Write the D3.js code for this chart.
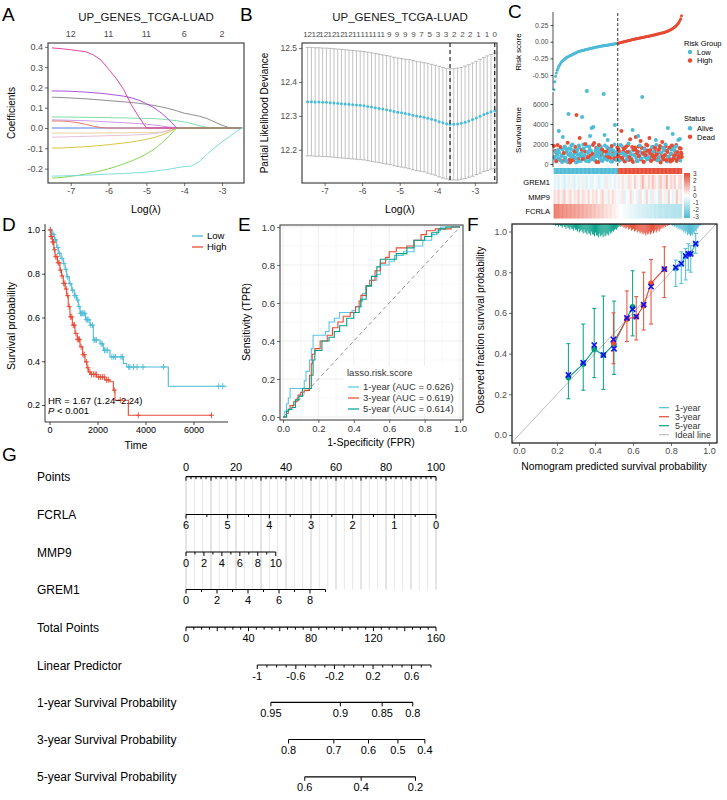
<!DOCTYPE html>
<html><head><meta charset="utf-8">
<script src="https://cdn.jsdelivr.net/npm/d3@7/dist/d3.min.js"></script>
<style>html,body{margin:0;padding:0;background:#fff}svg{display:block}</style>
</head><body>
<svg id="fig" width="727" height="800"></svg>
<script>
const FONT='"Liberation Sans", Arial, Helvetica, sans-serif';
// ================= DATA =================
// Panel A: LASSO coefficient paths
const lambdaA=[-7.5,-7.2,-7.0,-6.8,-6.6,-6.4,-6.2,-6.0,-5.8,-5.6,-5.4,-5.2,-5.0,-4.8,-4.6,-4.4,-4.2,-4.0,-3.8,-3.6,-3.4,-3.2,-3.0,-2.8,-2.6,-2.47];
const coefBlue=[0,0,0,0,0,0,0,0,0,0,0,0,0,0,0,0,0,0,0,0,0,0,0,0,0,0];
const coefPink=[0.395,0.390,0.386,0.381,0.376,0.360,0.335,0.290,0.245,0.190,0.115,0.055,0,0,0,0,0,0,0,0,0,0,0,0,0,0];
const coefPurple=[0.183,0.182,0.181,0.179,0.177,0.174,0.171,0.167,0.162,0.157,0.149,0.137,0.120,0.100,0.073,0.040,0,0,0,0,0,0,0,0,0,0];
const coefGray=[0.152,0.150,0.148,0.146,0.144,0.141,0.138,0.135,0.132,0.129,0.126,0.122,0.117,0.111,0.104,0.095,0.085,0.073,0.066,0.058,0.047,0.030,0.014,0,0,0];
const coefMint=[0.055,0.054,0.054,0.053,0.053,0.052,0.052,0.051,0.050,0.050,0.049,0.048,0.047,0.046,0.044,0.040,0.036,0.030,0.022,0.012,0.003,0,0,0,0,0];
const coefLilac=[0.040,0.039,0.038,0.037,0.036,0.034,0.032,0.030,0.028,0.026,0.024,0.022,0.019,0.015,0.010,0.005,0,0,0,0,0,0,0,0,0,0];
const coefOrange=[0.035,0.034,0.031,0.026,0.018,0.009,0.002,0,0,0,0,0,0,0,0,0,0,0,0,0,0,0,0,0,0,0];
const coefBeige=[-0.025,-0.025,-0.025,-0.025,-0.025,-0.025,-0.024,-0.024,-0.024,-0.024,-0.023,-0.023,-0.023,-0.022,-0.020,-0.011,0,0,0,0,0,0,0,0,0,0];
const coefRose=[-0.045,-0.044,-0.043,-0.042,-0.041,-0.040,-0.039,-0.038,-0.037,-0.036,-0.035,-0.033,-0.031,-0.028,-0.022,-0.012,0,0,0,0,0,0,0,0,0,0];
const coefYellow=[-0.099,-0.098,-0.096,-0.094,-0.092,-0.089,-0.086,-0.082,-0.078,-0.074,-0.069,-0.063,-0.056,-0.047,-0.035,-0.019,0,0,0,0,0,0,0,0,0,0];
const coefGreen=[-0.247,-0.243,-0.238,-0.233,-0.226,-0.219,-0.211,-0.201,-0.190,-0.177,-0.163,-0.147,-0.128,-0.105,-0.075,-0.040,0,0,0,0,0,0,0,0,0,0];
const coefCyan=[-0.237,-0.236,-0.235,-0.234,-0.232,-0.231,-0.229,-0.227,-0.226,-0.224,-0.222,-0.220,-0.217,-0.213,-0.208,-0.203,-0.196,-0.190,-0.187,-0.165,-0.130,-0.098,-0.068,-0.042,-0.014,0];
const topNumA=["12","11","11","6","2"];
const topPosA=[-7,-6,-5,-4,-3];
const xTicksA=[-7,-6,-5,-4,-3];
const yTicksA=[-0.2,-0.1,0.0,0.1,0.2,0.3,0.4];

// Panel B: cross-validation
const lambdaB=[-7.45,-7.35,-7.25,-7.15,-7.05,-6.95,-6.85,-6.75,-6.65,-6.55,-6.45,-6.35,-6.25,-6.15,-6.05,-5.95,-5.85,-5.75,-5.65,-5.55,-5.45,-5.35,-5.25,-5.15,-5.05,-4.95,-4.85,-4.75,-4.65,-4.55,-4.45,-4.35,-4.25,-4.15,-4.05,-3.95,-3.85,-3.75,-3.66,-3.56,-3.46,-3.36,-3.26,-3.16,-3.06,-2.96,-2.86,-2.76,-2.67,-2.57,-2.47];
const cvm=[12.342,12.342,12.341,12.341,12.340,12.340,12.339,12.338,12.337,12.336,12.335,12.334,12.333,12.332,12.331,12.330,12.328,12.326,12.324,12.322,12.320,12.318,12.316,12.313,12.311,12.309,12.307,12.305,12.302,12.300,12.298,12.296,12.293,12.290,12.287,12.283,12.280,12.277,12.275,12.275,12.276,12.278,12.281,12.285,12.289,12.294,12.299,12.304,12.308,12.312,12.315];
const cvsd=[0.160,0.160,0.160,0.160,0.160,0.160,0.160,0.160,0.160,0.160,0.160,0.160,0.160,0.160,0.160,0.160,0.160,0.160,0.160,0.160,0.160,0.160,0.160,0.160,0.160,0.160,0.160,0.161,0.161,0.161,0.161,0.161,0.162,0.162,0.162,0.163,0.163,0.163,0.164,0.164,0.165,0.165,0.166,0.166,0.167,0.167,0.168,0.168,0.169,0.169,0.170];
const lambdaMin=-3.66, lambda1se=-2.47;
const topNumB=["12","12","12","12","12","12","11","11","11","11","9","9","9","9","7","5","3","3","2","2","2","1","1","0"];
const topPosB=[-7.45,-7.23,-7.02,-6.80,-6.58,-6.37,-6.15,-5.93,-5.72,-5.50,-5.28,-5.07,-4.85,-4.63,-4.42,-4.20,-3.98,-3.77,-3.55,-3.33,-3.12,-2.90,-2.68,-2.47];
const yTicksB=[12.2,12.3,12.4,12.5];

// Panel C: risk score, survival, heatmap (patients ordered by risk)
const riskScore=[-0.72,-0.60,-0.52,-0.47,-0.43,-0.40,-0.37,-0.35,-0.33,-0.31,
-0.295,-0.285,-0.275,-0.265,-0.255,-0.245,-0.235,-0.228,-0.222,-0.216,
-0.210,-0.204,-0.198,-0.192,-0.186,-0.180,-0.174,-0.168,-0.162,-0.156,
-0.152,-0.148,-0.144,-0.140,-0.136,-0.133,-0.130,-0.127,-0.124,-0.121,
-0.118,-0.115,-0.112,-0.109,-0.106,-0.103,-0.100,-0.097,-0.094,-0.091,
-0.088,-0.085,-0.083,-0.080,-0.078,-0.075,-0.073,-0.070,-0.068,-0.066,
-0.064,-0.062,-0.060,-0.058,-0.056,-0.054,-0.052,-0.050,-0.048,-0.046,
-0.044,-0.042,-0.040,-0.038,-0.036,-0.034,-0.032,-0.030,-0.028,-0.026,
-0.022,-0.019,-0.016,-0.013,-0.010,-0.007,-0.004,-0.001,0.002,0.005,
0.008,0.011,0.014,0.017,0.020,0.023,0.026,0.029,0.032,0.035,
0.038,0.040,0.043,0.045,0.048,0.050,0.053,0.055,0.058,0.060,
0.063,0.065,0.068,0.070,0.073,0.075,0.078,0.080,0.083,0.085,
0.088,0.090,0.093,0.096,0.099,0.102,0.105,0.108,0.111,0.114,
0.117,0.120,0.123,0.126,0.129,0.132,0.135,0.139,0.143,0.147,
0.151,0.155,0.160,0.165,0.170,0.176,0.182,0.189,0.197,0.206,
0.215,0.225,0.236,0.248,0.262,0.278,0.296,0.318,0.345,0.390];
const survTime=[1800,600,1200,300,900,1400,3300,450,1700,800,
200,2700,1100,650,1600,350,1300,2130,5000,900,
150,1500,700,1950,400,1000,1250,550,4900,1400,
250,1850,2600,750,1100,4700,500,1550,900,2000,
300,7300,1200,650,1750,2800,450,3600,1000,3700,
2100,800,1350,200,1600,950,1900,600,1150,350,
1450,850,7000,2900,500,1250,1700,2400,700,1050,
1500,250,1800,900,1350,550,3900,1150,400,1650,
800,1300,350,1900,3300,600,1100,1550,250,950,
1750,500,1200,2050,700,2470,1000,400,3400,1450,
850,1650,2700,300,1250,2800,750,1850,2300,550,
6700,1100,200,1500,900,1950,450,1350,650,2600,
1050,300,1700,800,1250,500,1600,2400,950,350,
1400,700,1800,150,1150,2200,600,1500,850,1950,
400,1300,3600,750,1650,250,1050,1850,3000,550,
1400,900,1750,300,1200,2400,650,2500,1550,1000];
const survStatus=[1,0,0,1,0,0,0,0,1,0,
0,0,1,0,0,0,0,1,0,0,
1,0,0,0,1,0,1,0,1,0,
0,0,1,0,0,0,1,0,0,1,
0,0,0,1,0,0,0,0,1,0,
1,0,0,1,0,0,1,0,0,0,
1,0,0,0,0,1,0,0,1,0,
0,0,1,0,0,1,0,0,0,1,
1,1,0,0,1,1,0,1,1,0,
1,0,1,0,1,1,0,1,0,1,
0,1,1,0,1,0,1,0,1,0,
0,1,1,0,1,1,0,1,0,1,
1,1,0,1,0,1,1,0,1,0,
1,0,1,1,0,1,1,0,1,0,
1,1,0,0,1,1,0,1,0,1,
0,1,0,1,1,0,1,0,1,1];
// a second set of patients (interleaved) reading the dense 0-2000 band
const survTime2=[700,1300,250,1000,1900,550,1150,400,1600,850,
1450,300,1050,1750,600,1250,200,950,1550,450,
1100,1850,350,800,1350,650,1700,150,1200,900,
500,1650,1000,300,1400,750,1950,550,1250,400,
1800,700,1100,250,1500,850,1300,600,1900,450,
1000,350,1600,800,1150,200,1450,650,1750,950,
300,1250,550,1850,700,1050,400,1550,900,1350,
600,1650,250,1200,800,1950,450,1100,700,1400,
1500,350,1050,650,1800,500,1300,850,1600,300,
1150,750,1900,400,1250,950,550,1700,200,1350,
900,1450,600,1050,300,1750,800,1200,450,1600,
1000,250,1550,700,1300,850,1850,500,1150,650,
1400,350,950,1700,550,1250,800,1900,400,1050,
600,1500,300,1100,750,1650,450,1350,900,1800,
250,1200,700,1550,500,1000,1450,350,1750,850,
1300,600,1900,450,1050,800,1600,350,1150,700];
const survStatus2=[0,1,0,0,1,0,0,1,0,0,
0,1,0,0,0,1,0,0,0,1,
0,0,1,0,0,0,1,0,0,0,
1,0,0,0,1,0,0,0,1,0,
0,1,0,0,0,1,0,0,1,0,
0,0,1,0,0,1,0,0,0,1,
0,1,0,0,1,0,0,1,0,0,
1,0,0,1,0,0,1,0,1,0,
1,1,0,1,0,1,1,0,1,0,
1,0,1,1,0,1,0,1,1,0,
1,1,0,1,0,1,1,0,1,1,
0,1,1,0,1,0,1,1,0,1,
1,0,1,1,0,1,1,0,1,0,
1,1,0,1,1,0,1,0,1,1,
0,1,1,0,1,1,0,1,0,1,
1,0,1,1,0,1,1,0,1,1];
const heatGenes=["GREM1","MMP9","FCRLA"];
const heatGREM1=[-0.5,-0.3,-0.6,-0.2,-0.4,-0.7,-0.3,-0.5,0.2,-0.4,-0.6,-0.2,-0.5,-0.3,0.3,-0.4,
-0.6,-0.2,-0.4,-0.5,0.1,-0.3,-0.6,-0.4,-0.2,-0.5,0.4,-0.3,-0.4,-0.1,-0.5,-0.2,
0.3,-0.2,0.5,0.2,-0.3,0.6,0.4,0.1,0.8,0.3,-0.2,0.5,1.2,0.4,0.2,0.7,
0.3,1.0,0.5,-0.2,0.6,0.9,0.3,0.5,1.3,0.2,0.7,0.4,0.8,-0.1,0.5,0.6];
const heatMMP9=[0.6,0.3,0.8,0.2,0.5,0.9,0.1,0.4,0.7,-0.2,0.5,0.3,0.8,0.1,0.6,0.4,
0.2,0.7,-0.1,0.5,0.3,0.6,0.0,0.4,0.8,0.2,-0.3,0.5,0.1,0.6,0.3,-0.2,
0.2,-0.3,0.4,-0.5,0.1,-0.2,0.6,-0.4,0.0,0.3,-0.6,0.5,-0.1,-0.4,0.7,-0.2,
-0.5,0.4,-0.3,0.1,-0.7,0.6,-0.2,0.3,-0.4,0.8,-0.1,-0.5,0.2,0.9,-0.3,0.4];
const heatFCRLA=[2.2,2.0,2.1,1.8,2.0,1.7,1.9,1.6,1.8,1.5,1.7,1.4,1.6,1.3,1.5,1.2,
1.3,1.1,1.2,0.9,1.1,0.8,0.9,0.7,0.8,0.5,0.6,0.4,0.5,0.3,0.3,0.2,
0.1,0.0,-0.1,-0.2,-0.2,-0.3,-0.4,-0.4,-0.5,-0.5,-0.6,-0.6,-0.7,-0.7,-0.8,-0.8,
-0.9,-0.8,-1.0,-0.9,-1.0,-1.1,-1.0,-1.1,-1.2,-1.1,-1.2,-1.2,-1.3,-1.2,-1.3,-1.3];
const heatLegendTicks=[3,2,1,0,-1,-2,-3];

// Panel D: Kaplan-Meier
const kmLowT=[0,100,200,300,367,480,576,650,715,820,925,1030,1133,1200,1271,1500,1688,1825,2104,2243,2521,3076,3215,4950];
const kmLowS=[1.0,0.98,0.955,0.92,0.893,0.87,0.847,0.82,0.786,0.755,0.725,0.70,0.68,0.65,0.619,0.59,0.565,0.497,0.48,0.45,0.42,0.39,0.374,0.286];
const kmLowEnd=7375;
const kmHighT=[0,60,120,180,230,330,437,500,576,650,715,780,854,950,1062,1160,1271,1380,1479,1560,1618,1700,1965,2300,2521,2660,2729,3285];
const kmHighS=[1.0,0.97,0.945,0.91,0.878,0.85,0.817,0.79,0.756,0.73,0.70,0.65,0.603,0.565,0.527,0.50,0.466,0.43,0.397,0.37,0.351,0.34,0.328,0.315,0.306,0.268,0.222,0.153];
const kmHighEnd=6760;
const censLow=[50,100,180,260,350,420,520,600,680,760,860,960,1050,1100,1180,1230,1290,1330,1380,1430,1470,1530,1580,1640,1720,1790,1860,1900,1960,2150,2200,2290,2350,2420,2600,2680,2750,2980,3050,3300,3350,3500,3650,3900,4750,7050,7220];
const censHigh=[30,60,90,130,170,210,260,310,360,400,450,520,590,640,700,760,820,880,930,990,1040,1100,1160,1210,1250,1320,1400,1450,1540,1600,1680,1750,1830,1900,1950,2050,2120,2200,2280,2380,2450,2700,2950,3700,6750];
const groupsD=["Low","High"];

// Panel E: time-dependent ROC
const roc1fpr=[0,0.01,0.02,0.03,0.04,0.11,0.12,0.13,0.15,0.15,0.16,0.17,0.23,0.24,0.26,0.29,0.32,0.39,0.41,0.44,0.45,0.47,0.50,0.53,0.55,0.60,0.63,0.68,0.74,0.79,0.84,0.87,0.89,1.0];
const roc1tpr=[0,0.03,0.07,0.10,0.15,0.15,0.19,0.24,0.24,0.30,0.36,0.43,0.43,0.45,0.50,0.52,0.55,0.56,0.58,0.61,0.65,0.69,0.72,0.75,0.80,0.82,0.85,0.87,0.90,0.93,0.96,0.98,1.0,1.0];
const roc3fpr=[0,0.02,0.03,0.04,0.06,0.08,0.085,0.10,0.12,0.15,0.15,0.16,0.165,0.18,0.21,0.25,0.28,0.31,0.34,0.38,0.41,0.43,0.44,0.47,0.49,0.52,0.55,0.58,0.60,0.64,0.70,0.74,0.78,0.81,0.86,0.90,0.95,1.0];
const roc3tpr=[0,0.02,0.04,0.06,0.08,0.10,0.115,0.13,0.14,0.16,0.22,0.28,0.33,0.36,0.40,0.43,0.47,0.50,0.53,0.55,0.58,0.61,0.64,0.69,0.72,0.77,0.81,0.84,0.87,0.89,0.90,0.93,0.96,0.98,0.99,0.99,1.0,1.0];
const roc5fpr=[0,0.02,0.03,0.05,0.07,0.09,0.11,0.16,0.16,0.17,0.18,0.22,0.26,0.29,0.32,0.36,0.40,0.43,0.44,0.47,0.50,0.53,0.55,0.62,0.64,0.70,0.74,0.80,0.84,0.88,0.92,1.0];
const roc5tpr=[0,0.03,0.04,0.05,0.09,0.11,0.15,0.15,0.22,0.30,0.35,0.40,0.42,0.45,0.48,0.52,0.55,0.58,0.62,0.69,0.74,0.79,0.83,0.83,0.86,0.89,0.93,0.95,0.97,0.99,1.0,1.0];
const rocNames=["1-year (AUC = 0.626)","3-year (AUC = 0.619)","5-year (AUC = 0.614)"];
const ticks01=[0,0.2,0.4,0.6,0.8,1.0];

// Panel F: calibration
const cal5pred=[0.26,0.338,0.396,0.444,0.50,0.598];
const cal5obs=[0.282,0.349,0.421,0.393,0.446,0.63];
const cal5km=[0.295,0.355,0.442,0.393,0.424,0.618];
const cal5lo=[0.178,0.22,0.282,0.224,0.298,0.487];
const cal5hi=[0.449,0.545,0.622,0.683,0.658,0.807];
const cal3pred=[0.497,0.568,0.617,0.656,0.695,0.765];
const cal3obs=[0.455,0.570,0.581,0.635,0.745,0.816];
const cal3km=[0.47,0.575,0.582,0.64,0.729,0.815];
const cal3lo=[0.35,0.459,0.467,0.516,0.545,0.675];
const cal3hi=[0.60,0.708,0.68,0.80,0.863,0.925];
const cal1pred=[0.825,0.854,0.877,0.891,0.904,0.93];
const cal1obs=[0.818,0.84,0.878,0.89,0.89,0.94];
const cal1km=[0.823,0.842,0.88,0.89,0.89,0.94];
const cal1lo=[0.73,0.745,0.762,0.81,0.80,0.893];
const cal1hi=[0.86,0.90,0.917,0.94,0.93,0.99];
const histBin=0.005;
const hist5start=0.18, hist5=[1,0,2,1,1,3,1,2,2,4,1,3,3,5,2,4,4,6,3,5,5,7,4,6,6,8,5,9,7,6,8,10,6,9,9,11,7,10,10,12,8,11,11,13,9,12,12,14,10,13,12,11,14,9,13,12,10,11,12,8,10,9,7,8,6,5,6,4,3,2,3,1,1,1,0,1,0,1];
const hist3start=0.53, hist3=[1,2,3,2,4,3,5,4,3,6,5,4,7,6,5,8,7,6,9,7,8,10,8,9,11,9,10,12,9,11,10,8,11,9,7,10,8,6,9,7,5,8,6,4,5,3,4,2,3,1,2,1,1,0];
const hist1start=0.80, hist1=[1,2,1,3,2,4,3,5,4,6,5,7,6,9,7,10,8,12,10,11,13,11,12,9,10,7,8,5,4,2,2,1];
const calLegend=["1-year","3-year","5-year","Ideal line"];

// Panel G: nomogram
const nomoRows=["Points","FCRLA","MMP9","GREM1","Total Points","Linear Predictor","1-year Survival Probability","3-year Survival Probability","5-year Survival Probability"];
const pointsLabels=[0,20,40,60,80,100];
const fcrlaLabels=[6,5,4,3,2,1,0], fcrlaMaxPts=100;
const mmp9Labels=[0,2,4,6,8,10], mmp9MaxPts=35.9;
const grem1Labels=[0,2,4,6,8], grem1Max=9, grem1MaxPts=55.8;
const totalLabels=[0,40,80,120,160];
const lpLabels=[-1,-0.6,-0.2,0.2,0.6], lpMin=-1, lpMax=0.8, lpTotalAtMin=45.6, totalPerLp=61.76;
const surv1Labels=[0.95,0.9,0.85,0.8], base1=0.886;
const surv3Labels=[0.8,0.7,0.6,0.5,0.4], base3=0.645;
const surv5Labels=[0.6,0.4,0.2], base5=0.428;

// ================= STYLE =================
const C_BLUE="#4DBBD5", C_RED="#E64B35", C_TEAL="#00A087";
const coefColors={blue:"#3D6EE8",pink:"#E0309A",purple:"#A23FE0",gray:"#808080",mint:"#72D8A2",lilac:"#C98BE8",orange:"#EE6A50",beige:"#E3CB92",rose:"#E2B8D6",yellow:"#D4BE2E",green:"#78D23F",cyan:"#6ED8DA"};

const svg=d3.select("#fig").style("font-family",FONT);
svg.append("rect").attr("width",727).attr("height",800).attr("fill","#fff");
const defs=svg.append("defs");
function clip(id,x,y,w,h){defs.append("clipPath").attr("id",id).append("rect").attr("x",x).attr("y",y).attr("width",w).attr("height",h);}
function T(g,x,y,s,o={}){const t=g.append("text").attr("x",x).attr("y",y).text(s).attr("font-size",o.size||10).attr("fill",o.fill||"#000").attr("text-anchor",o.anchor||"start").style("font-family",FONT);if(o.italic)t.attr("font-style","italic");return t;}
function TV(g,x,y,s,o={}){const t=T(g,0,0,s,Object.assign({anchor:"middle"},o));t.attr("transform",`translate(${x},${y}) rotate(-90)`);return t;}
function styleAx(g,o={}){g.attr("font-family",null).attr("font-size",null);
 g.selectAll(".tick text").attr("font-size",o.size||9).attr("fill",o.color||"#4D4D4D").style("font-family",FONT);
 g.selectAll(".tick line").attr("stroke",o.tick||"#333").attr("stroke-width",o.tw||0.7);
 g.select(".domain").remove();return g;}
function vline(g,x,y1,y2,col,w,dash){const l=g.append("line").attr("x1",x).attr("x2",x).attr("y1",y1).attr("y2",y2).attr("stroke",col).attr("stroke-width",w);if(dash)l.attr("stroke-dasharray",dash);return l;}
function hline(g,x1,x2,y,col,w,dash){const l=g.append("line").attr("x1",x1).attr("x2",x2).attr("y1",y).attr("y2",y).attr("stroke",col).attr("stroke-width",w);if(dash)l.attr("stroke-dasharray",dash);return l;}

// panel letters
[["A",2,21],["B",240,21],["C",508,18],["D",2,231],["E",238,231],["F",467,231],["G",2,461]].forEach(d=>T(svg,d[1],d[2],d[0],{size:19}));

// ================= PANEL A =================
{
const g=svg.append("g");
const x=d3.scaleLinear().domain([-7.6,-2.42]).range([48,244]);
const y=d3.scaleLinear().domain([-0.271,0.419]).range([183,43]);
clip("clipA",48,43,196,140);
const series=[[coefBlue,"blue"],[coefBeige,"beige"],[coefRose,"rose"],[coefOrange,"orange"],[coefLilac,"lilac"],[coefMint,"mint"],[coefYellow,"yellow"],[coefGray,"gray"],[coefPurple,"purple"],[coefPink,"pink"],[coefGreen,"green"],[coefCyan,"cyan"]];
const line=d3.line().x((d,i)=>x(lambdaA[i])).y(d=>y(d));
g.append("g").attr("clip-path","url(#clipA)").selectAll("path").data(series).join("path")
 .attr("d",d=>line(d[0])).attr("fill","none").attr("stroke",d=>coefColors[d[1]]).attr("stroke-width",0.9);
g.append("rect").attr("x",48).attr("y",43).attr("width",196).attr("height",140).attr("fill","none").attr("stroke","#333").attr("stroke-width",1.1);
styleAx(g.append("g").attr("transform","translate(0,183)").call(d3.axisBottom(x).tickValues(xTicksA).tickSize(3).tickPadding(2).tickFormat(d=>String(d))));
styleAx(g.append("g").attr("transform","translate(48,0)").call(d3.axisLeft(y).tickValues(yTicksA).tickSize(3).tickPadding(2).tickFormat(d=>d.toFixed(1))));
topNumA.forEach((s,i)=>T(g,x(topPosA[i]),37,s,{size:9,anchor:"middle",fill:"#4D4D4D"}));
T(g,146,21,"UP_GENES_TCGA-LUAD",{size:11.5,anchor:"middle",fill:"#1a1a1a"});
TV(g,15,113,"Coefficients",{size:10});
T(g,146,213,"Log(\u03bb)",{size:10.5,anchor:"middle"});
}

// ================= PANEL B =================
{
const g=svg.append("g");
const x=d3.scaleLinear().domain([-7.6,-2.41]).range([302,497]);
const y=d3.scaleLinear().domain([12.102,12.515]).range([183,43]);
lambdaB.forEach((l,i)=>{
 const xx=x(l),yu=y(cvm[i]+cvsd[i]),yl=y(cvm[i]-cvsd[i]);
 vline(g,xx,yu,yl,"#A8A8A8",0.7);
 hline(g,xx-1.9,xx+1.9,yu,"#A8A8A8",0.8);
 hline(g,xx-1.9,xx+1.9,yl,"#A8A8A8",0.8);
});
g.selectAll("circle").data(lambdaB).join("circle").attr("cx",d=>x(d)).attr("cy",(d,i)=>y(cvm[i])).attr("r",1.5).attr("fill","#45BCE0");
[lambdaMin,lambda1se].forEach(l=>vline(g,x(l),43,183,"#111",1.1,"4,3"));
g.append("rect").attr("x",302).attr("y",43).attr("width",195).attr("height",140).attr("fill","none").attr("stroke","#333").attr("stroke-width",1.1);
styleAx(g.append("g").attr("transform","translate(0,183)").call(d3.axisBottom(x).tickValues(xTicksA).tickSize(3).tickPadding(2).tickFormat(d=>String(d))),{size:8.5});
styleAx(g.append("g").attr("transform","translate(302,0)").call(d3.axisLeft(y).tickValues(yTicksB).tickSize(3).tickPadding(2).tickFormat(d=>d.toFixed(1))),{size:8.5});
topNumB.forEach((s,i)=>T(g,x(topPosB[i]),37,s,{size:8,anchor:"middle",fill:"#4D4D4D"}));
T(g,400,21,"UP_GENES_TCGA-LUAD",{size:11.5,anchor:"middle",fill:"#1a1a1a"});
TV(g,268,113,"Partial Likelihood Deviance",{size:10});
T(g,400,213,"Log(\u03bb)",{size:10.5,anchor:"middle"});
}

// ================= PANEL C =================
{
const g=svg.append("g");
const N=riskScore.length;
const x=d3.scaleLinear().domain([0,N-1]).range([554,681.5]);
const yR=d3.scaleLinear().domain([-0.72,0.435]).range([89.7,12.7]);
const yS=d3.scaleLinear().domain([0,6000]).range([164,104]);
const cut=d3.median(riskScore);
const grp=riskScore.map(v=>v>cut?"High":"Low");
const xCut=(x(N/2-1)+x(N/2))/2;
g.selectAll("circle.r").data(riskScore).join("circle").attr("class","r")
 .attr("cx",(d,i)=>x(i)).attr("cy",d=>yR(d)).attr("r",1.5).attr("fill",(d,i)=>grp[i]==="High"?C_RED:C_BLUE);
// survival dots: second (interleaved) set first, then the main set
g.selectAll("circle.s2").data(survTime2).join("circle").attr("class","s2")
 .attr("cx",(d,i)=>x(i+0.5)).attr("cy",d=>yS(d)).attr("r",1.9).attr("fill",(d,i)=>survStatus2[i]?C_RED:C_BLUE);
g.selectAll("circle.s").data(survTime).join("circle").attr("class","s")
 .attr("cx",(d,i)=>x(i)).attr("cy",d=>yS(d)).attr("r",2).attr("fill",(d,i)=>survStatus[i]?C_RED:C_BLUE);
vline(g,xCut,13,167,"#333",1,"3,2");
vline(g,553,12,90,"#000",0.7);
vline(g,553,92,167,"#000",0.7);
styleAx(g.append("g").attr("transform","translate(553,0)").call(d3.axisLeft(yR).tickValues([-0.5,-0.25,0,0.25]).tickSize(2.5).tickPadding(2).tickFormat(d=>d.toFixed(2))),{size:7,tick:"#000"});
styleAx(g.append("g").attr("transform","translate(553,0)").call(d3.axisLeft(yS).tickValues([0,2000,4000,6000]).tickSize(2.5).tickPadding(2).tickFormat(d=>String(d))),{size:7,tick:"#000"});
TV(g,521,52,"Risk score",{size:8});
TV(g,521,130,"Survival time",{size:8});
const bw=(681.5-554)/(N-1);
g.selectAll("rect.grp").data(grp).join("rect").attr("class","grp")
 .attr("x",(d,i)=>x(i)-bw/2).attr("y",168).attr("width",bw+0.3).attr("height",6).attr("fill",d=>d==="High"?C_RED:C_BLUE);
const hc=d3.scaleLinear().domain([-3,0,3]).range([C_BLUE,"#FFFFFF",C_RED]).clamp(true);
const hx=d3.scaleLinear().domain([0,heatFCRLA.length]).range([x(0)-bw/2,x(N-1)+bw/2]);
[heatGREM1,heatMMP9,heatFCRLA].forEach((arr,r)=>{
 const y0=175+r*14.5;
 g.append("g").selectAll("rect").data(arr).join("rect").attr("x",(d,j)=>hx(j)).attr("y",y0).attr("width",hx(1)-hx(0)+0.3).attr("height",14.5).attr("fill",d=>hc(d));
 T(g,550,y0+10,heatGenes[r],{size:7.5,anchor:"end"});
});
T(g,684,46,"Risk Group",{size:7.5});
[["Low",C_BLUE,52],["High",C_RED,60.5]].forEach(d=>{g.append("circle").attr("cx",690).attr("cy",d[2]).attr("r",2.2).attr("fill",d[1]);T(g,697,d[2]+2.7,d[0],{size:7.5});});
T(g,684,121,"Status",{size:7.5});
[["Alive",C_BLUE,128.3],["Dead",C_RED,136.8]].forEach(d=>{g.append("circle").attr("cx",690).attr("cy",d[2]).attr("r",2.2).attr("fill",d[1]);T(g,697,d[2]+2.7,d[0],{size:7.5});});
const lg=defs.append("linearGradient").attr("id","hgrad").attr("x1",0).attr("x2",0).attr("y1",0).attr("y2",1);
[[0,C_RED],[0.5,"#FFFFFF"],[1,C_BLUE]].forEach(s=>lg.append("stop").attr("offset",s[0]).attr("stop-color",s[1]));
const yl=d3.scaleLinear().domain([3,-3]).range([174,217]);
g.append("rect").attr("x",684).attr("y",yl(3)-1).attr("width",6).attr("height",yl(-3)-yl(3)+2).attr("fill","url(#hgrad)");
heatLegendTicks.forEach(v=>T(g,693,yl(v)+2.3,String(v),{size:6.5,fill:"#333"}));
}

// ================= PANEL D =================
{
const g=svg.append("g");
const x=d3.scaleLinear().domain([0,6000]).range([49.5,193.5]);
const y=d3.scaleLinear().domain([0.2,1]).range([405,230]);
function stepAt(T_,S_,t){let s=S_[0];for(let i=0;i<T_.length;i++){if(T_[i]<=t)s=S_[i];}return s;}
const line=d3.line().curve(d3.curveStepAfter).x(d=>x(d[0])).y(d=>y(d[1]));
const curves=[[kmLowT,kmLowS,kmLowEnd,censLow,C_BLUE],[kmHighT,kmHighS,kmHighEnd,censHigh,C_RED]];
curves.forEach(c=>{
 const pts=c[0].map((t,i)=>[t,c[1][i]]);pts.push([c[2],c[1][c[1].length-1]]);
 g.append("path").attr("d",line(pts)).attr("fill","none").attr("stroke",c[4]).attr("stroke-width",1.1);
 c[3].forEach(t=>{const xx=x(t),yy=y(stepAt(c[0],c[1],t));
  vline(g,xx,yy-3,yy+3,c[4],0.9);hline(g,xx-2.5,xx+2.5,yy,c[4],0.9);});
});
vline(g,45,224,422,"#000",0.8);hline(g,45,228,422,"#000",0.8);
styleAx(g.append("g").attr("transform","translate(45,0)").call(d3.axisLeft(y).tickValues([0.2,0.4,0.6,0.8,1.0]).tickSize(3).tickPadding(2).tickFormat(d=>d.toFixed(1))),{size:9,color:"#000",tick:"#000"});
styleAx(g.append("g").attr("transform","translate(0,422)").call(d3.axisBottom(x).tickValues([0,2000,4000,6000]).tickSize(3).tickPadding(2).tickFormat(d=>String(d))),{size:9,color:"#000",tick:"#000"});
TV(g,15,326,"Survival probability",{size:10.5});
T(g,136,449,"Time",{size:10.5,anchor:"middle"});
[[groupsD[0],C_BLUE,236],[groupsD[1],C_RED,247]].forEach(d=>{hline(g,192,203,d[2],d[1],1.3);T(g,207,d[2]+3.3,d[0],{size:9.5});});
T(g,48,403.5,"HR = 1.67 (1.24\u22122.24)",{size:9.5});
const p=T(g,48,414,"",{size:9.5});
p.append("tspan").attr("font-style","italic").text("P");p.append("tspan").text(" < 0.001");
}

// ================= PANEL E =================
{
const g=svg.append("g");
const x=d3.scaleLinear().domain([0,1]).range([283,460]);
const y=d3.scaleLinear().domain([0,1]).range([417,227]);
const bx0=280,bx1=463,by0=225,by1=420;
g.append("rect").attr("x",bx0).attr("y",by0).attr("width",bx1-bx0).attr("height",by1-by0).attr("fill","#fff");
d3.range(0,1.0001,0.1).forEach((v,k)=>{const c=k%2===0?"#E6E6E6":"#F0F0F0",w=k%2===0?0.7:0.5;
 vline(g,x(v),by0,by1,c,w);hline(g,bx0,bx1,y(v),c,w);});
g.append("line").attr("x1",x(0)).attr("y1",y(0)).attr("x2",x(1)).attr("y2",y(1)).attr("stroke","#888").attr("stroke-width",0.9).attr("stroke-dasharray","4,3");
const line=d3.line().curve(d3.curveStepAfter).x(d=>x(d[0])).y(d=>y(d[1]));
[[roc1fpr,roc1tpr,"#58C6E6"],[roc3fpr,roc3tpr,C_RED],[roc5fpr,roc5tpr,C_TEAL]].forEach(r=>{
 g.append("path").attr("d",line(r[0].map((f,i)=>[f,r[1][i]]))).attr("fill","none").attr("stroke",r[2]).attr("stroke-width",1.1);});
g.append("rect").attr("x",344).attr("y",366).attr("width",115).attr("height",48).attr("fill","#fff");
T(g,347,376,"lasso.risk.score",{size:9.5,fill:"#333"});
[["#58C6E6",387],[C_RED,398],[C_TEAL,409]].forEach((d,i)=>{hline(g,348,359,d[1],d[0],1.2);T(g,363,d[1]+3.4,rocNames[i],{size:9.5,fill:"#333"});});
g.append("rect").attr("x",bx0).attr("y",by0).attr("width",bx1-bx0).attr("height",by1-by0).attr("fill","none").attr("stroke","#333").attr("stroke-width",1);
styleAx(g.append("g").attr("transform",`translate(${bx0},0)`).call(d3.axisLeft(y).tickValues(ticks01).tickSize(3).tickPadding(2).tickFormat(d=>d.toFixed(1))),{size:9.5,color:"#333"});
styleAx(g.append("g").attr("transform",`translate(0,${by1})`).call(d3.axisBottom(x).tickValues(ticks01).tickSize(3).tickPadding(2).tickFormat(d=>d.toFixed(1))),{size:9.5,color:"#333"});
TV(g,250,322,"Sensitivity (TPR)",{size:10.5});
T(g,371,446,"1-Specificity (FPR)",{size:10.5,anchor:"middle"});
}

// ================= PANEL F =================
{
const g=svg.append("g");
const x=d3.scaleLinear().domain([0,1]).range([519,709]);
const y=d3.scaleLinear().domain([0,1]).range([435,231.5]);
const bx0=512,bx1=717,by0=224,by1=443;
clip("clipF",bx0,by0,bx1-bx0,by1-by0);
const gc=g.append("g").attr("clip-path","url(#clipF)");
gc.append("line").attr("x1",x(-0.1)).attr("y1",y(-0.1)).attr("x2",x(1.1)).attr("y2",y(1.1)).attr("stroke","#BDBDBD").attr("stroke-width",1);
const hs=0.95, binW=x(histBin)-x(0);
[[hist5,hist5start,C_TEAL],[hist3,hist3start,C_RED],[hist1,hist1start,C_BLUE]].forEach(h=>{
 gc.append("g").selectAll("rect").data(h[0]).join("rect").attr("x",(d,i)=>x(h[1]+i*histBin)).attr("y",by0).attr("width",binW).attr("height",d=>d*hs).attr("fill",h[2]);});
const sets=[[cal5pred,cal5obs,cal5km,cal5lo,cal5hi,C_TEAL],[cal3pred,cal3obs,cal3km,cal3lo,cal3hi,C_RED],[cal1pred,cal1obs,cal1km,cal1lo,cal1hi,C_BLUE]];
const line=d3.line().x(d=>x(d[0])).y(d=>y(d[1]));
sets.forEach(s=>{
 s[0].forEach((p,i)=>{const xx=x(p);vline(gc,xx,y(s[4][i]),y(s[3][i]),s[5],1);
  hline(gc,xx-2,xx+2,y(s[4][i]),s[5],1);hline(gc,xx-2,xx+2,y(s[3][i]),s[5],1);});
 gc.append("path").attr("d",line(s[0].map((p,i)=>[p,s[1][i]]))).attr("fill","none").attr("stroke",s[5]).attr("stroke-width",1.1);
 s[0].forEach((p,i)=>gc.append("circle").attr("cx",x(p)).attr("cy",y(s[1][i])).attr("r",2.8).attr("fill",s[5]));
});
sets.forEach(s=>{s[0].forEach((p,i)=>{const xx=x(p),yy=y(s[2][i]),r=2.6;
 gc.append("path").attr("d",`M${xx-r},${yy-r}L${xx+r},${yy+r}M${xx-r},${yy+r}L${xx+r},${yy-r}`).attr("stroke","#1010F0").attr("stroke-width",1.6);});});
[[C_BLUE,407.7],[C_RED,416.7],[C_TEAL,425.7],["#BDBDBD",434.7]].forEach((d,i)=>{hline(g,659,669,d[1],d[0],1.2);T(g,675,d[1]+3.2,calLegend[i],{size:9,fill:"#333"});});
g.append("rect").attr("x",bx0).attr("y",by0).attr("width",bx1-bx0).attr("height",by1-by0).attr("fill","none").attr("stroke","#111").attr("stroke-width",1.2);
styleAx(g.append("g").attr("transform",`translate(${bx0},0)`).call(d3.axisLeft(y).tickValues(ticks01).tickSize(3).tickPadding(2).tickFormat(d=>d.toFixed(1))),{size:9});
styleAx(g.append("g").attr("transform",`translate(0,${by1})`).call(d3.axisBottom(x).tickValues(ticks01).tickSize(3).tickPadding(2).tickFormat(d=>d.toFixed(1))),{size:9});
TV(g,484,330,"Observed fraction survival probability",{size:10.2});
T(g,614,470,"Nomogram predicted survival probability",{size:10.4,anchor:"middle"});
}

// ================= PANEL G =================
{
const g=svg.append("g");
const xP=d3.scaleLinear().domain([0,100]).range([186,436]);
const xTot=d3.scaleLinear().domain([0,160]).range([186,436]);
const rowY=[476.7,514.5,552,589.5,627.2,665,702.3,739.5,776.8];
nomoRows.forEach((s,i)=>T(g,37,rowY[i]+4.5,s,{size:12}));
d3.range(0,100.001,10/3).forEach((p,k)=>vline(g,xP(p),rowY[0],rowY[3],k%3===0?"#C4C4C4":"#E4E4E4",0.9));
const near=(a,b)=>Math.abs(a-b)<1e-6;
function nAxis(y,sc,ticks,labels,o={}){
 const xs=ticks.map(sc);
 hline(g,d3.min(xs),d3.max(xs),y,"#000",1.2);
 ticks.forEach(t=>{const maj=o.major?o.major(t):true;vline(g,sc(t),y,y+(maj?4:2.5),"#000",1);});
 labels.forEach(l=>T(g,sc(l),o.above?y-5.5:y+14.5,String(l),{size:11,anchor:"middle"}));
}
nAxis(rowY[0],xP,d3.range(0,101,2),pointsLabels,{above:true,major:t=>t%10===0});
const sF=d3.scaleLinear().domain([6,0]).range([xP(0),xP(fcrlaMaxPts)]);
nAxis(rowY[1],sF,d3.range(0,13).map(k=>k/2),fcrlaLabels,{major:t=>near(t,Math.round(t))});
const sM=d3.scaleLinear().domain([0,10]).range([xP(0),xP(mmp9MaxPts)]);
nAxis(rowY[2],sM,d3.range(0,11),mmp9Labels,{major:t=>t%2===0});
const sG=d3.scaleLinear().domain([0,grem1Max]).range([xP(0),xP(grem1MaxPts)]);
nAxis(rowY[3],sG,d3.range(0,grem1Max+1),grem1Labels,{major:t=>t%2===0});
nAxis(rowY[4],xTot,d3.range(0,161,5),totalLabels,{major:t=>t%20===0});
const sLP=lp=>xTot(lpTotalAtMin+(lp-lpMin)*totalPerLp);
nAxis(rowY[5],sLP,d3.range(0,19).map(k=>Math.round((lpMin+k*0.1)*10)/10),lpLabels,{major:t=>lpLabels.some(l=>near(l,t))});
[[surv1Labels,base1],[surv3Labels,base3],[surv5Labels,base5]].forEach((d,i)=>{
 const sc=s=>sLP(Math.log(Math.log(s)/Math.log(d[1])));
 nAxis(rowY[6+i],sc,d[0],d[0]);
});
}
</script>
</body></html>
